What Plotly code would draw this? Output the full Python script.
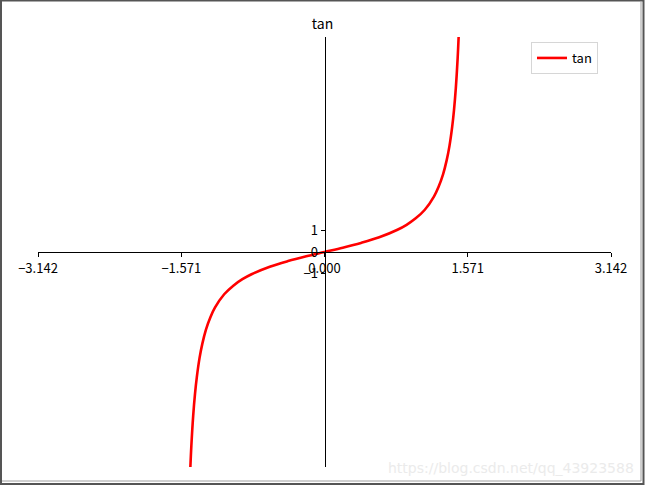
import plotly.graph_objects as go

# tan curve, values
x_vals = [-1.4708, -1.46, -1.44, -1.42, -1.40, -1.37, -1.34, -1.30, -1.25, -1.20,
          -1.10, -1.00, -0.90, -0.80, -0.60, -0.40, -0.20, 0.00,
          0.20, 0.40, 0.60, 0.80, 0.90, 1.00, 1.10, 1.20,
          1.25, 1.30, 1.34, 1.37, 1.40, 1.42, 1.44, 1.46, 1.4708]
y_vals = [-9.97, -8.99, -7.60, -6.58, -5.80, -4.91, -4.26, -3.60, -3.01, -2.57,
          -1.96, -1.56, -1.26, -1.03, -0.68, -0.42, -0.20, 0.00,
          0.20, 0.42, 0.68, 1.03, 1.26, 1.56, 1.96, 2.57,
          3.01, 3.60, 4.26, 4.91, 5.80, 6.58, 7.60, 8.99, 9.97]

x_ticks = [-3.14159, -1.5708, 0.0, 1.5708, 3.14159]
x_ticklabels = ["−3.142", "−1.571", "0.000", "1.571", "3.142"]
y_ticks = [-1, 0, 1]
y_ticklabels = ["−1", "0", "1"]

FONT = "Noto Sans CJK SC, DejaVu Sans, sans-serif"

# plot area in pixels (left, right, top, bottom)
L, R, T, B = 38, 611, 37, 467
W, H = 645, 486


def px(x):
    return (x - L) / (R - L)


def py(y):
    return (B - y) / (B - T)


fig = go.Figure()

fig.add_trace(go.Scatter(
    x=x_vals, y=y_vals, mode="lines", name="tan",
    line=dict(color="#ff0000", width=2.6, shape="spline"),
))

fig.update_layout(
    width=W, height=H,
    margin=dict(l=L, r=W - R, t=T, b=H - B),
    plot_bgcolor="white", paper_bgcolor="white",
    font=dict(family=FONT, size=13, color="black"),
    title=dict(text="tan", x=0.5, xanchor="center", y=1 - 24 / H, yanchor="middle",
               font=dict(family=FONT, size=14, color="black")),
    showlegend=True,
    legend=dict(x=px(531), y=py(42), xanchor="left", yanchor="top",
                bgcolor="white", bordercolor="#d6d6d6", borderwidth=1,
                font=dict(family=FONT, size=13), itemwidth=30),
    xaxis=dict(range=[-3.14159, 3.14159], anchor="free", position=0.5,
               showline=True, linecolor="black", linewidth=1,
               showgrid=False, zeroline=False,
               tickmode="array", tickvals=x_ticks, ticktext=x_ticklabels,
               ticks="outside", ticklen=4, tickcolor="black"),
    yaxis=dict(range=[-9.97, 9.97], anchor="free", position=0.5,
               showline=True, linecolor="black", linewidth=1,
               showgrid=False, zeroline=False,
               tickmode="array", tickvals=y_ticks, ticktext=y_ticklabels,
               ticks="outside", ticklen=4, tickcolor="black"),
)

# watermark
fig.add_annotation(text="https://blog.csdn.net/qq_43923588", xref="paper", yref="paper",
                   x=px(636), y=py(468), xanchor="right", yanchor="middle",
                   showarrow=False, font=dict(family="DejaVu Sans", size=14, color="#ebebeb"))

# screenshot frame
fig.add_shape(type="rect", xref="paper", yref="paper",
              x0=px(1), x1=px(643.5), y0=py(484), y1=py(0.5),
              line=dict(color="#555555", width=2))
fig.add_shape(type="line", xref="paper", yref="paper",
              x0=px(641), x1=px(641), y0=py(481), y1=py(1),
              line=dict(color="#a0a0a0", width=1))
fig.add_shape(type="line", xref="paper", yref="paper",
              x0=px(2), x1=px(641), y0=py(481), y1=py(481),
              line=dict(color="#a0a0a0", width=1))

# drop the default page margin so the figure sits at the window's corner
fig.write_html("out.html", config={"displayModeBar": False},
               post_script="document.body.style.margin='0';document.body.style.overflow='hidden';")
